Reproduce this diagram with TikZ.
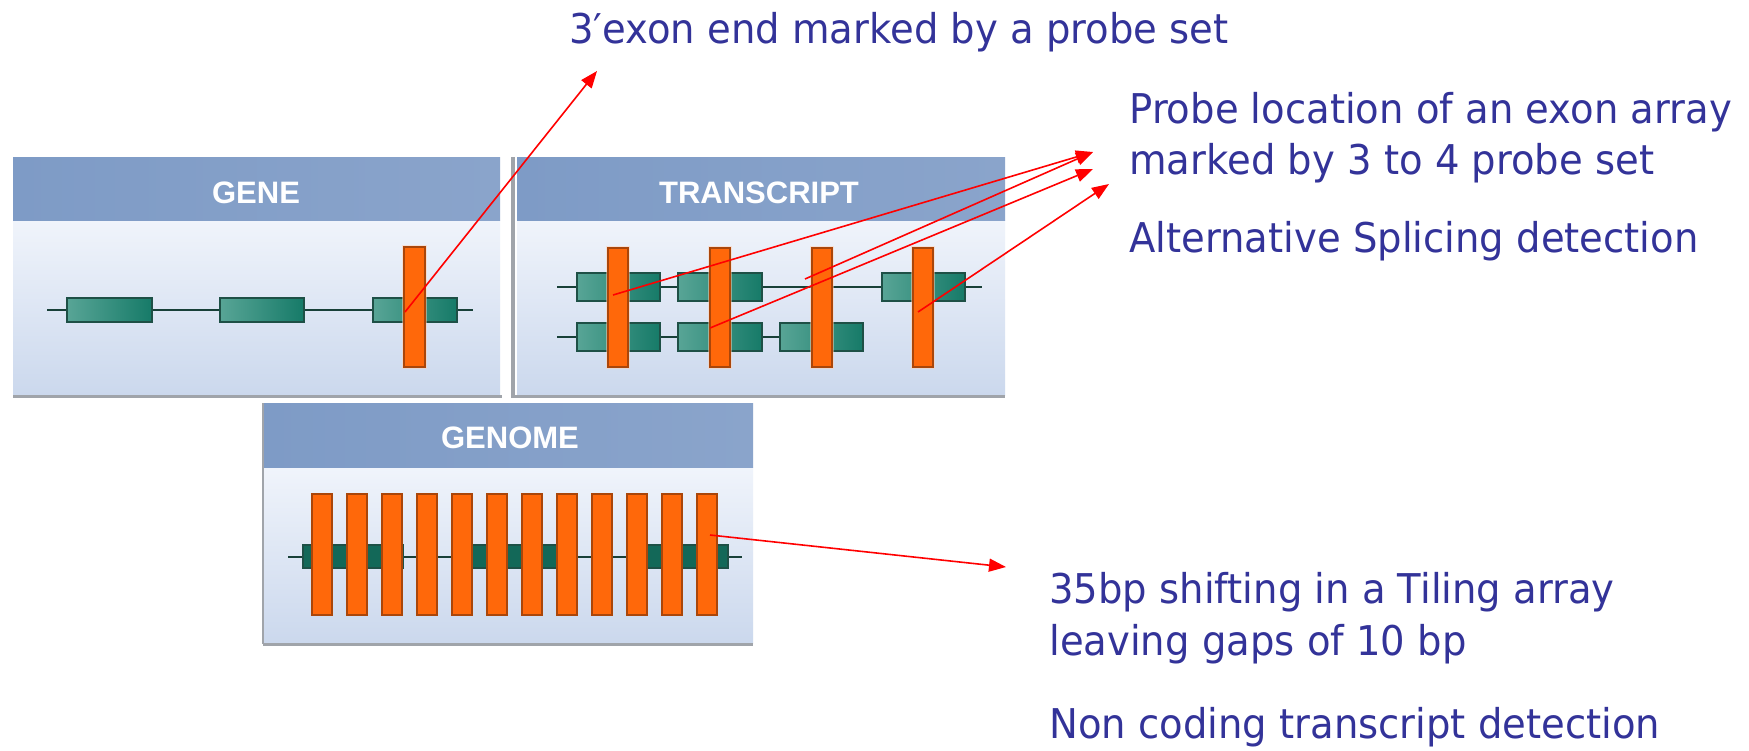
\documentclass[tikz,border=0pt]{standalone}
\usepackage{fontspec}
\setmainfont{Liberation Sans}
\newfontfamily\lblfont[FakeStretch=0.94]{DejaVu Sans}
\usetikzlibrary{arrows.meta}
\definecolor{txtblue}{RGB}{51,51,153}
\definecolor{hdrA}{RGB}{126,155,198}
\definecolor{hdrB}{RGB}{138,164,203}
\definecolor{bodyA}{RGB}{240,244,251}
\definecolor{bodyB}{RGB}{203,216,237}
\definecolor{exonL}{RGB}{88,165,150}
\definecolor{exonR}{RGB}{22,122,104}
\definecolor{exonD}{RGB}{30,80,70}
\definecolor{probeF}{RGB}{255,104,10}
\definecolor{probeD}{RGB}{170,70,10}
\definecolor{panelG}{RGB}{160,164,170}
\tikzset{
  hdrband/.style={left color=hdrA, right color=hdrB},
  bodyband/.style={top color=bodyA, bottom color=bodyB},
  hdrtext/.style={text=white, font=\fontsize{15.5}{18}\selectfont\bfseries, inner sep=0pt},
  exonbox/.style={left color=exonL, right color=exonR, draw=exonD, line width=0.6pt},
  genexon/.style={fill=exonR!85!black, draw=exonD, line width=0.6pt},
  dnaline/.style={draw=exonD!80!black, line width=0.9pt},
  probebox/.style={fill=probeF, draw=probeD, line width=0.6pt},
  panelrule/.style={draw=panelG, line width=1.5pt},
  lbl/.style={text=txtblue, font=\lblfont\fontsize{20.5}{25}\selectfont, inner sep=0pt, anchor=base west},
  redarrow/.style={draw=red, line width=0.8pt, -{Triangle[length=8.5pt,width=6.5pt]}}
}
\begin{document}
\begin{tikzpicture}[x=0.5pt,y=-0.5pt]
\useasboundingbox[fill=white] (0,0) rectangle (1749,750);

% ---------- GENE panel ----------
\shade[bodyband] (13,220) rectangle (500,395);
\shade[hdrband] (13,157) rectangle (500,220);
\draw[panelrule] (13,396) -- (502,396);
\node[hdrtext] (geneT) at (256,193) {GENE};
\draw[dnaline] (47,310) -- (473,310);
\shade[exonbox] (67,298) rectangle (152,322);
\shade[exonbox] (220,298) rectangle (304,322);
\shade[exonbox] (373,298) rectangle (457,322);
\fill[probeF!30, opacity=0.5] (402,245) rectangle (427,369);
\draw[probebox] (404,247) rectangle (425,367);
\draw[panelG, line width=1.8pt] (513,157) -- (513,398);

% ---------- TRANSCRIPT panel ----------
\shade[bodyband] (517,220) rectangle (1005,395);
\shade[hdrband] (517,157) rectangle (1005,220);
\draw[panelrule] (513,396) -- (1005,396);
\node[hdrtext] (transT) at (759,193) {TRANSCRIPT};
\draw[dnaline] (557,287) -- (982,287);
\draw[dnaline] (557,337) -- (780,337);
\shade[exonbox] (577,273) rectangle (660,301);
\shade[exonbox] (678,273) rectangle (762,301);
\shade[exonbox] (882,273) rectangle (965,301);
\shade[exonbox] (577,323) rectangle (660,351);
\shade[exonbox] (678,323) rectangle (762,351);
\shade[exonbox] (780,323) rectangle (863,351);
\foreach \px in {608,710,812,913}{
  \fill[probeF!30, opacity=0.5] (\px-2,246) rectangle (\px+22,369);
  \draw[probebox] (\px,248) rectangle (\px+20,367);
}

% ---------- GENOME panel ----------
\shade[bodyband] (263,467) rectangle (753,643);
\shade[hdrband] (263,403) rectangle (753,467);
\draw[panelrule] (263,644) -- (753,644);
\draw[panelG, line width=1pt] (263,403) -- (263,644);
\node[hdrtext] (genomeT) at (510,438) {GENOME};
\draw[dnaline] (288,557) -- (742,557);
\draw[genexon] (303,545) rectangle (403,568);
\draw[genexon] (472,545) rectangle (557,568);
\draw[genexon] (645,545) rectangle (728,568);
\foreach \i in {0,...,11}{
  \draw[probebox] (312+35*\i,494) rectangle (332+35*\i,615);
}

% ---------- labels ----------
\node[lbl] (l1) at (569,43) {3′exon end marked by a probe set};
\node[lbl] (l2) at (1129,123) {Probe location of an exon array};
\node[lbl] (l3) at (1129,174) {marked by 3 to 4 probe set};
\node[lbl] (l4) at (1129,252) {Alternative Splicing detection};
\node[lbl] (l5) at (1049,603) {35bp shifting in a Tiling array};
\node[lbl] (l6) at (1049,655) {leaving gaps of 10 bp};
\node[lbl] (l7) at (1049,738) {Non coding transcript detection};

% ---------- arrows ----------
\coordinate (gS) at (405,312);
\coordinate (gE) at (597,71);
\coordinate (tS1) at (613,295);
\coordinate (tS2) at (805,279);
\coordinate (tS3) at (710,328);
\coordinate (tS4) at (918,312);
\coordinate (tE1) at (1093,152);
\coordinate (tE2) at (1093,169);
\coordinate (tE3) at (1109,184);
\coordinate (nS) at (710,535);
\coordinate (nE) at (1006,567);
\draw[redarrow] (gS) -- (gE);
\draw[redarrow] (tS1) -- (tE1);
\draw[redarrow] (tS2) -- (tE1);
\draw[redarrow] (tS3) -- (tE2);
\draw[redarrow] (tS4) -- (tE3);
\draw[redarrow] (nS) -- (nE);
\end{tikzpicture}
\end{document}
